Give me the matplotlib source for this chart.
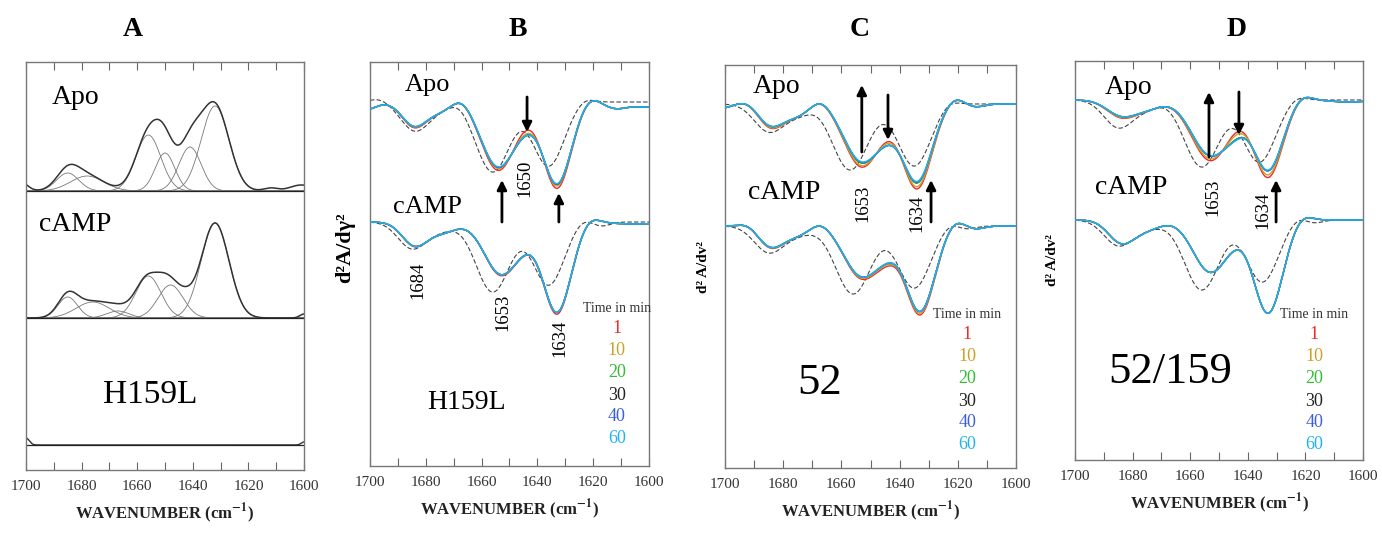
import numpy as np
import matplotlib
matplotlib.use('Agg')
import matplotlib.pyplot as plt

plt.rcParams['font.family'] = ['Liberation Serif', 'DejaVu Serif']
plt.rcParams['mathtext.fontset'] = 'stix'

# ---- data: bands as (centre cm-1, width, height) ----
# panel A, curve-fitted absorbance components
A_APO_BANDS = [(1685, 4, 18), (1678, 6, 15), (1656, 4.5, 56), (1650, 3.5, 38),
               (1641, 4, 44), (1632, 5, 85)]
A_APO_RESID = [(1702, 2.5, 9), (1612, 2.5, 3), (1601, 4, 6)]
A_CAMP_BANDS = [(1685, 3.5, 21), (1676, 6, 16), (1667, 4, 7), (1656, 4.5, 42),
                (1648, 4.5, 33), (1632, 5, 95)]
A_CAMP_RESID = [(1654, 3, -6), (1642, 2.5, 5), (1600, 1.5, 4)]
A_H159L_RESID = [(1700, 1.2, 7), (1600, 1.0, 3)]

# panels B-D, second derivative bands (depth below baseline)
B_APO = [(1702, 4, 8), (1684, 4.5, 24), (1675, 4, 8), (1667, 3, -5), (1654, 6, 65),
         (1644, 4, 10), (1633, 5, 82), (1621, 3, -5), (1612, 4, 6), (1600, 6, 5)]
B_APO_DASH = [(1697, 3, -3), (1684, 5, 28), (1675, 5, 6), (1668, 3, -4),
              (1656, 6, 70), (1636, 5.5, 64), (1623, 3, -4)]
B_CAMP = [(1684, 4.5, 23), (1674, 5, 10), (1653, 6, 52), (1644, 4, 8),
          (1633, 5, 90), (1621, 3, -5), (1605, 8, 2)]
B_CAMP_DASH = [(1685, 5, 26), (1675, 5, 8), (1656, 6, 70), (1636, 5.5, 63),
               (1624, 3, -4), (1617, 3, 4)]

C_APO = [(1701, 3, 4), (1692, 3, -3), (1684, 4.5, 22), (1675, 4, 10), (1667, 3, -5),
         (1653, 6, 58), (1644, 4, 12), (1634, 5, 78), (1621, 3, -6), (1614, 3, 3)]
C_APO_DASH = [(1685, 5, 27), (1675, 5, 10), (1668, 3, -2), (1657, 6, 66),
              (1635, 5.5, 62), (1623, 3, -4)]
C_CAMP = [(1692, 3, -3), (1684, 4.5, 21), (1675, 4, 8), (1667, 3, -4), (1653, 6, 50),
          (1644, 4, 14), (1633, 5, 85), (1621, 3, -6), (1614, 3, 3)]
C_CAMP_DASH = [(1685, 5, 26), (1675, 5, 8), (1656, 6, 68), (1635, 5.5, 62),
               (1623, 3, -4), (1617, 3, 3)]

D_APO = [(1684, 5, 15), (1675, 5, 8), (1653, 6.5, 55), (1644, 4, 12),
         (1633, 5, 70), (1621, 3, -5), (1605, 6, 2)]
D_APO_DASH = [(1685, 5, 27), (1675, 5, 8), (1668, 3, -2), (1656, 6, 67),
              (1636, 5.5, 62), (1623, 3, -4)]
D_CAMP = [(1684, 4.5, 22), (1675, 5, 9), (1653, 6, 52), (1644, 4, 5),
          (1633, 5, 93), (1621, 3, -5)]
D_CAMP_DASH = [(1685, 5, 25), (1675, 5, 8), (1656, 6, 70), (1635, 5.5, 62),
               (1623, 3, -4), (1617, 3, 3)]

# time series: scale of the main bands and of the 1644 band
TIMES = ['1', '10', '20', '30', '40', '60']
TIME_COLORS = ['#ee2a2a', '#c9a227', '#33bb33', '#222222', '#3a5fe0', '#1eb4f0']
B_APO_MAIN = [1.05, 1.02, 1.0, 1.0, 1.0, 0.99]
B_APO_MID = [0.4, 0.8, 1.0, 1.0, 1.05, 1.05]
B_CAMP_MAIN = [1.02, 1.0, 1.0, 1.0, 1.0, 1.0]
B_CAMP_MID = [1.0, 1.0, 1.0, 1.0, 1.0, 1.0]
C_APO_MAIN = [1.08, 1.05, 1.0, 1.0, 0.99, 0.98]
C_APO_MID = [0.5, 0.7, 1.0, 1.0, 1.05, 1.05]
C_CAMP_MAIN = [1.04, 1.02, 1.0, 1.0, 1.0, 1.0]
C_CAMP_MID = [1.1, 1.0, 1.0, 1.0, 0.95, 0.95]
D_APO_MAIN = [1.10, 1.06, 1.0, 1.0, 1.0, 0.99]
D_APO_MID = [0.2, 0.5, 1.0, 1.0, 1.05, 1.1]
D_CAMP_MAIN = [1.0, 1.0, 1.0, 1.0, 1.0, 1.0]
D_CAMP_MID = [1.0, 1.0, 1.0, 1.0, 1.0, 1.0]

wn = np.linspace(1700, 1600, 801)


def gauss(x, bands):
    y = np.zeros_like(x)
    for c, s, h in bands:
        y += h * np.exp(-(x - c) ** 2 / (2 * s ** 2))
    return y


def scaled(bands, kmain, kmid):
    out = []
    for c, s, d in bands:
        if 1640 <= c <= 1648:
            d = d * kmid
        elif abs(d) >= 15:
            d = d * kmain
        out.append((c, s, d))
    return out


def frame(ax, height):
    ax.set_xlim(1700, 1600)
    ax.set_ylim(0, height)
    ax.set_yticks([])
    ax.set_xticks(np.arange(1700, 1599, -10))
    ax.set_xticklabels([str(v) if v % 20 == 0 else '' for v in range(1700, 1599, -10)])
    ax.tick_params(axis='x', direction='in', top=True, length=6, width=0.8,
                   color='#666666', labelsize=11, labelcolor='#333333', pad=7)
    for sp in ax.spines.values():
        sp.set_color('#777777')
        sp.set_linewidth(1.0)
    ax.set_xlabel(r'WAVENUMBER (cm$^{\mathbf{-1}}$)', fontsize=12, fontweight='bold',
                  color='#222222', labelpad=6)


def deriv_panel(ax, height, base_apo, base_camp, apo, apo_d, camp, camp_d,
                apo_k, camp_k):
    for base, bands, dash, (kmain, kmid) in [(base_apo, apo, apo_d, apo_k),
                                             (base_camp, camp, camp_d, camp_k)]:
        ax.plot(wn, base - gauss(wn, dash), color='#444444', lw=0.8,
                dashes=(4, 2), zorder=2)
        order = [3, 0, 1, 2, 4, 5]
        for i in order:
            y = base - gauss(wn, scaled(bands, kmain[i], kmid[i]))
            ax.plot(wn, y, color=TIME_COLORS[i], lw=1.0, zorder=3)
    frame(ax, height)


def legend(ax, x, y_head, ys):
    ax.text(x, y_head, 'Time in min', fontsize=10, color='#333333',
            ha='center', va='center', clip_on=False)
    for t, c, yy in zip(TIMES, TIME_COLORS, ys):
        ax.text(x, yy, t, fontsize=13, color=c, ha='center', va='center')


def arrow(ax, x, y0, y1):
    ax.annotate('', xy=(x, y1), xytext=(x, y0),
                arrowprops=dict(arrowstyle='-|>', color='black', lw=2,
                                mutation_scale=14, shrinkA=0, shrinkB=0))


fig = plt.figure(figsize=(13.82, 5.34), dpi=100)

# ---- panel A ----
axA = fig.add_axes([0.0188, 0.1199, 0.2012, 0.764])
for base, bands, resid in [(279, A_APO_BANDS, A_APO_RESID),
                           (152, A_CAMP_BANDS, A_CAMP_RESID)]:
    for b in bands:
        axA.plot(wn, base + gauss(wn, [b]), color='#777777', lw=0.6)
    axA.plot(wn, base + gauss(wn, bands) + gauss(wn, resid), color='#333333', lw=1.1)
    axA.axhline(base, color='#222222', lw=0.9)
axA.plot(wn, 25 + gauss(wn, A_H159L_RESID), color='#333333', lw=1.0)
axA.axhline(25, color='#222222', lw=0.9)
frame(axA, 408)
axA.text(1690.6, 372, 'Apo', fontsize=20, va='center', ha='left')
axA.text(1695.3, 245, 'cAMP', fontsize=20, va='center', ha='left')
axA.text(1655.4, 75, 'H159L', fontsize=24, va='center', ha='center')

# ---- panel B ----
axB = fig.add_axes([0.2677, 0.1273, 0.2019, 0.7566])
deriv_panel(axB, 404, 364, 244, B_APO, B_APO_DASH, B_CAMP, B_CAMP_DASH,
            (B_APO_MAIN, B_APO_MID), (B_CAMP_MAIN, B_CAMP_MID))
arrow(axB, 1643.7, 369, 334)
arrow(axB, 1652.7, 244, 286)
arrow(axB, 1632.3, 244, 273)
axB.text(1644.4, 288, '1650', rotation=90, fontsize=13.5, ha='center', va='center')
axB.text(1682.8, 186, '1684', rotation=90, fontsize=13.5, ha='center', va='center')
axB.text(1652.3, 154, '1653', rotation=90, fontsize=13.5, ha='center', va='center')
axB.text(1631.9, 128, '1634', rotation=90, fontsize=13.5, ha='center', va='center')
axB.text(1687.5, 381, 'Apo', fontsize=19, va='center', ha='left')
axB.text(1691.8, 259, 'cAMP', fontsize=19, va='center', ha='left')
axB.text(1679.6, 64, 'H159L', fontsize=20, va='center', ha='left')
legend(axB, 1611.5, 158, [138, 116, 94, 71, 50, 28])

# ---- panel C ----
axC = fig.add_axes([0.5246, 0.1236, 0.2106, 0.7547])
deriv_panel(axC, 403, 364, 242, C_APO, C_APO_DASH, C_CAMP, C_CAMP_DASH,
            (C_APO_MAIN, C_APO_MID), (C_CAMP_MAIN, C_CAMP_MID))
arrow(axC, 1653.0, 316, 383)
arrow(axC, 1644.0, 373, 328)
arrow(axC, 1629.2, 246, 288)
axC.text(1652.6, 265, '1653', rotation=90, fontsize=13.5, ha='center', va='center')
axC.text(1634.0, 255, '1634', rotation=90, fontsize=13.5, ha='center', va='center')
axC.text(1690.4, 381, 'Apo', fontsize=20, va='center', ha='left')
axC.text(1692.1, 275, 'cAMP', fontsize=20, va='center', ha='left')
axC.text(1667.4, 85, '52', fontsize=32, va='center', ha='center')
legend(axC, 1616.8, 153, [133, 111, 89, 66, 45, 23])

# ---- panel D ----
axD = fig.add_axes([0.7779, 0.1386, 0.2084, 0.7472])
deriv_panel(axD, 399, 360, 240, D_APO, D_APO_DASH, D_CAMP, D_CAMP_DASH,
            (D_APO_MAIN, D_APO_MID), (D_CAMP_MAIN, D_CAMP_MID))
arrow(axD, 1653.5, 303, 368)
arrow(axD, 1643.1, 368, 325)
arrow(axD, 1630.2, 238, 280)
axD.text(1652.1, 263, '1653', rotation=90, fontsize=13.5, ha='center', va='center')
axD.text(1634.7, 250, '1634', rotation=90, fontsize=13.5, ha='center', va='center')
axD.text(1689.6, 372, 'Apo', fontsize=20, va='center', ha='left')
axD.text(1693.0, 272, 'cAMP', fontsize=20, va='center', ha='left')
axD.text(1667.0, 88, '52/159', fontsize=32, va='center', ha='center')
legend(axD, 1617.0, 145, [125, 103, 81, 58, 37, 15])

# ---- titles and y labels ----
for lab, xp in [('A', 133), ('B', 518), ('C', 860), ('D', 1237)]:
    fig.text(xp / 1382, 1 - 30 / 534, lab, fontsize=20, fontweight='bold',
             ha='center', va='center')
fig.text(345 / 1382, 1 - 248 / 534, 'd²A/dγ²', fontsize=16, fontweight='bold',
         rotation=90, ha='center', va='center')
fig.text(703 / 1382, 1 - 267 / 534, 'd² A/dv²', fontsize=11, fontweight='bold',
         rotation=90, ha='center', va='center')
fig.text(1053 / 1382, 1 - 260 / 534, 'd² A/dv²', fontsize=11, fontweight='bold',
         rotation=90, ha='center', va='center')

fig.savefig('out.png', dpi=100)
